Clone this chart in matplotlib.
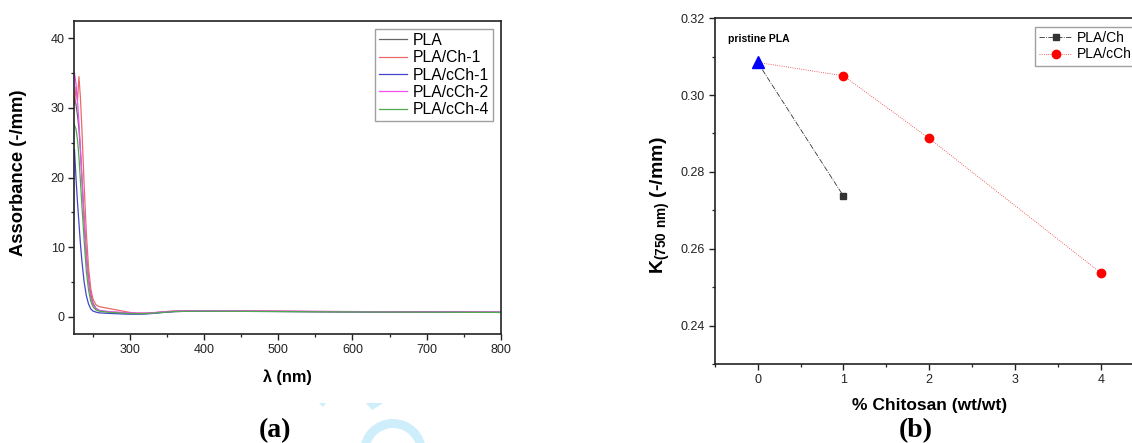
import numpy as np
import matplotlib
matplotlib.use("Agg")
import matplotlib.pyplot as plt
from matplotlib.ticker import MultipleLocator
from matplotlib.patches import Wedge, Polygon

plt.rcParams['font.family'] = ['Liberation Sans', 'DejaVu Sans']
plt.rcParams['mathtext.fontset'] = 'custom'
plt.rcParams['mathtext.rm'] = 'Liberation Sans'
plt.rcParams['mathtext.bf'] = 'Liberation Sans:bold'

# --- panel (a): absorbance spectra ---
wl = [225, 227, 229, 231, 233, 235, 238, 241, 244, 247, 250, 254, 258, 265, 275, 290,
      300, 310, 320, 330, 345, 360, 380, 400, 450, 500, 550, 600, 650, 700, 750, 800]
abs_pla = [31.5, 30.5, 29, 27, 24, 20, 14, 9, 5.5, 3.2, 1.9, 1.2, 0.9, 0.75, 0.65, 0.55,
           0.5, 0.45, 0.45, 0.5, 0.65, 0.75, 0.8, 0.8, 0.78, 0.75, 0.72, 0.7, 0.68, 0.66, 0.64, 0.62]
abs_ch1 = [30.5, 33.0, 31.0, 34.5, 31.5, 27, 19, 12, 7, 4, 2.5, 1.7, 1.45, 1.3, 1.1, 0.8,
           0.6, 0.5, 0.5, 0.55, 0.7, 0.8, 0.82, 0.82, 0.8, 0.77, 0.74, 0.71, 0.69, 0.67, 0.65, 0.63]
abs_cch1 = [24, 20, 16.5, 13.5, 10.5, 8, 5, 3, 1.8, 1.1, 0.8, 0.65, 0.55, 0.5, 0.45, 0.38,
            0.35, 0.35, 0.38, 0.45, 0.6, 0.72, 0.78, 0.78, 0.76, 0.74, 0.71, 0.69, 0.67, 0.65, 0.63, 0.61]
abs_cch2 = [35, 33.5, 31, 28, 24, 20, 14, 8.5, 5, 2.8, 1.7, 1.15, 0.9, 0.8, 0.7, 0.6,
            0.55, 0.5, 0.5, 0.55, 0.7, 0.8, 0.85, 0.85, 0.82, 0.79, 0.76, 0.73, 0.7, 0.68, 0.66, 0.64]
abs_cch4 = [27.5, 27, 25.5, 23, 19.5, 16, 11, 6.5, 3.8, 2.2, 1.4, 0.95, 0.8, 0.7, 0.6, 0.5,
            0.45, 0.42, 0.43, 0.5, 0.62, 0.73, 0.78, 0.78, 0.76, 0.73, 0.7, 0.68, 0.66, 0.64, 0.62, 0.6]
spec_names = ['PLA', 'PLA/Ch-1', 'PLA/cCh-1', 'PLA/cCh-2', 'PLA/cCh-4']
spec_colors = ['#666666', '#e86a6a', '#4545c8', '#f050f0', '#50a850']

# --- panel (b): K at 750 nm ---
ch_x = [0, 1]
ch_k = [0.3085, 0.2737]
cch_x = [0, 1, 2, 4]
cch_k = [0.3085, 0.3050, 0.2887, 0.2537]
pristine_x = [0]
pristine_k = [0.3085]

fig = plt.figure(figsize=(11.32, 4.43), dpi=100)

ax1 = fig.add_axes([0.0658, 0.246, 0.3765, 0.7065])
for y, name, c in zip([abs_pla, abs_ch1, abs_cch1, abs_cch2, abs_cch4], spec_names, spec_colors):
    ax1.plot(wl, y, color=c, lw=0.9, label=name)
ax1.set_xlim(225, 800)
ax1.set_ylim(-2.5, 42.5)
ax1.xaxis.set_major_locator(MultipleLocator(100))
ax1.xaxis.set_minor_locator(MultipleLocator(50))
ax1.yaxis.set_major_locator(MultipleLocator(10))
ax1.yaxis.set_minor_locator(MultipleLocator(5))
ax1.set_xlabel('λ (nm)', fontsize=11.7, fontweight='bold', va='top')
ax1.xaxis.set_label_coords(0.5, -0.113)
ax1.set_ylabel('Assorbance (-/mm)', fontsize=13.2, fontweight='bold')
ax1.yaxis.set_label_coords(-0.111, 0.516)
leg1 = ax1.legend(loc='upper right', fontsize=11.3, frameon=True, fancybox=False,
                  edgecolor='#888888', handlelength=1.8, borderpad=0.25,
                  labelspacing=0.15, handletextpad=0.35, borderaxespad=0.5)
leg1.get_frame().set_linewidth(1.0)

ax2 = fig.add_axes([0.6314, 0.1783, 0.379, 0.7806])
ax2.plot(ch_x, ch_k, color='#333333', lw=0.6, ls='-.', marker='s', ms=5,
         markevery=[1], label='PLA/Ch')
ax2.plot(cch_x, cch_k, color='#ee3333', lw=0.6, ls=':', marker='o', ms=6,
         markevery=[1, 2, 3], markerfacecolor='red', markeredgecolor='red', label='PLA/cCh')
ax2.plot(pristine_x, pristine_k, ls='none', marker='^', ms=8, color='blue')
ax2.text(-0.34, 0.3146, 'pristine PLA', fontsize=7.5, fontweight='bold', va='center')
ax2.set_xlim(-0.5, 4.5)
ax2.set_ylim(0.23, 0.32)
ax2.xaxis.set_major_locator(MultipleLocator(1))
ax2.xaxis.set_minor_locator(MultipleLocator(0.5))
ax2.yaxis.set_major_locator(MultipleLocator(0.02))
ax2.yaxis.set_minor_locator(MultipleLocator(0.01))
ax2.set_xlabel('% Chitosan (wt/wt)', fontsize=12.5, fontweight='bold', va='top')
ax2.xaxis.set_label_coords(0.5, -0.097)
ax2.set_ylabel(r'$\mathbf{K_{(750\ nm)}}$ (-/mm)', fontsize=14, fontweight='bold')
ax2.yaxis.set_label_coords(-0.1, 0.46)
leg2 = ax2.legend(loc='upper right', fontsize=10, frameon=True, fancybox=False,
                  edgecolor='#888888', handlelength=2.4, borderpad=0.3,
                  labelspacing=0.2, handletextpad=0.3, borderaxespad=0.6)
leg2.get_frame().set_linewidth(1.0)

for ax in (ax1, ax2):
    for s in ax.spines.values():
        s.set_linewidth(1.2)
        s.set_color('#222222')
    ax.tick_params(which='major', direction='out', length=4, width=1.0,
                   labelsize=9, colors='#222222', pad=3)
    ax.tick_params(which='minor', direction='out', length=2.5, width=0.9, colors='#222222')

# captions
fig.text(275 / 1132, 1 - 431 / 443, '(a)', family='Liberation Serif', fontweight='bold',
         fontsize=20, ha='center', va='center')
fig.text(916 / 1132, 1 - 431 / 443, '(b)', family='Liberation Serif', fontweight='bold',
         fontsize=20, ha='center', va='center')

# faint watermark shapes near caption (a), in pixel units with y up
wax = fig.add_axes([0, 0, 1, 1], zorder=-1)
wax.set_xlim(0, 1132)
wax.set_ylim(0, 443)
wax.axis('off')
wm = '#cdeefa'
wax.add_patch(Wedge((393, 443 - 452), 33, 0, 180, width=9, color=wm, lw=0))
wax.add_patch(Polygon([(319, 443 - 403), (326, 443 - 403), (323, 443 - 407)], color=wm, lw=0))
wax.add_patch(Polygon([(366, 443 - 403), (383, 443 - 403), (372, 443 - 410)], color=wm, lw=0))

fig.savefig('out.png', dpi=100)
